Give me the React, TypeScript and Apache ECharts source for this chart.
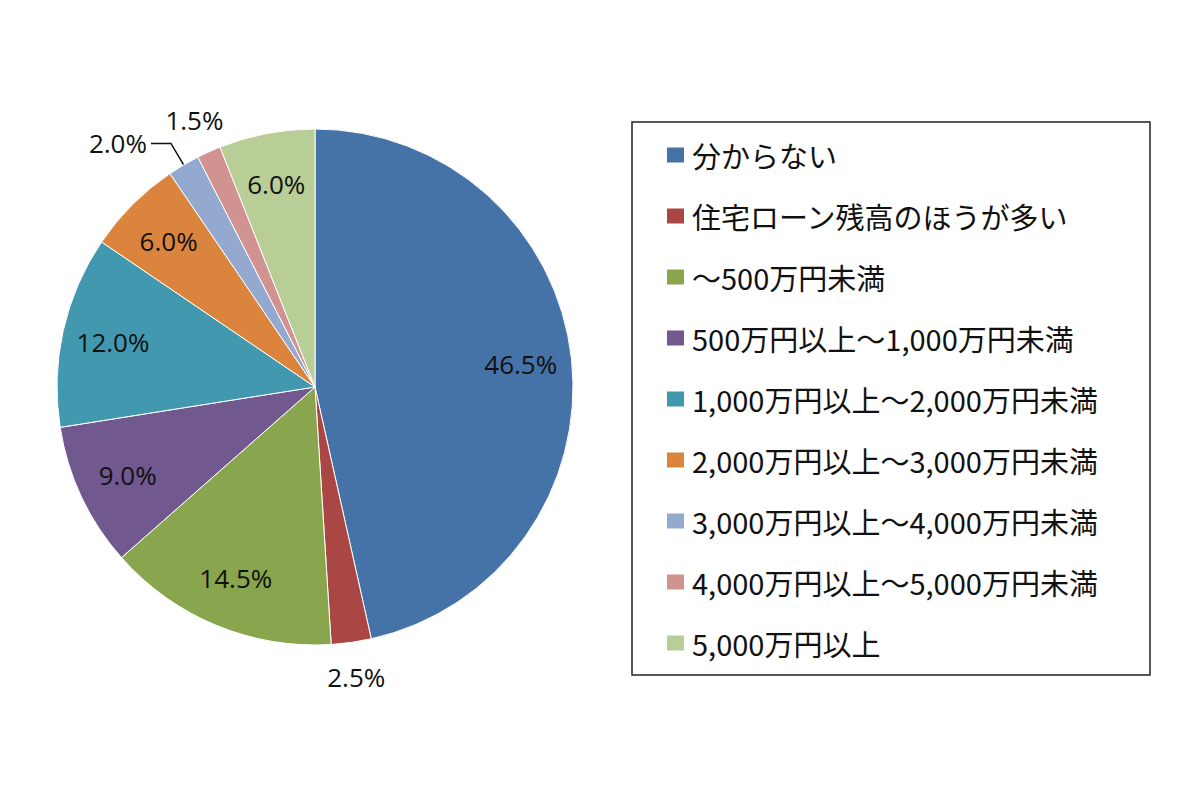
import React, { useEffect, useRef } from "react";
import * as echarts from "echarts";

const categories = [
  "分からない",
  "住宅ローン残高のほうが多い",
  "～500万円未満",
  "500万円以上～1,000万円未満",
  "1,000万円以上～2,000万円未満",
  "2,000万円以上～3,000万円未満",
  "3,000万円以上～4,000万円未満",
  "4,000万円以上～5,000万円未満",
  "5,000万円以上",
];
const values = [46.5, 2.5, 14.5, 9.0, 12.0, 6.0, 2.0, 1.5, 6.0];
const colors = [
  "#4572A7",
  "#AA4643",
  "#89A54E",
  "#71588F",
  "#4198AF",
  "#DB843D",
  "#93A9CF",
  "#D19392",
  "#B9CD96",
];
// where each slice's percentage label sits
const labelMode = ["inner", "outer", "inner", "inner", "inner", "inner", "leader", "outer", "inner"];

const CX = 315;
const CY = 387;
const R = 258;
const labelFont = { fontSize: 26, fontFamily: "Open Sans", color: "#111" };
const fmt = (p: any) => `${Number(p.value).toFixed(1)}%`;

export default function App() {
  const ref = useRef<HTMLDivElement>(null);
  useEffect(() => {
    if (!ref.current) return;
    const chart = echarts.init(ref.current, null, { renderer: "svg" });
    const mainData = categories.map((name, i) => ({
      name,
      value: values[i],
      itemStyle: { color: colors[i] },
      label: { show: labelMode[i] === "leader" },
      labelLine: { show: labelMode[i] === "leader" },
    }));
    const ringData = (mode: string) =>
      categories.map((name, i) => ({
        name,
        value: values[i],
        label: { show: labelMode[i] === mode },
      }));
    const ringBase = {
      type: "pie",
      center: [CX, CY],
      startAngle: 90,
      silent: true,
      itemStyle: { color: "rgba(0,0,0,0)", borderWidth: 0 },
      emphasis: { disabled: true },
      labelLine: { show: false },
      z: 5,
    };
    chart.setOption({
      animation: false,
      backgroundColor: "#fff",
      legend: {
        orient: "vertical",
        left: 667,
        top: 140,
        padding: 0,
        data: categories,
        icon: "rect",
        itemWidth: 17,
        itemHeight: 15,
        itemGap: 31,
        itemStyle: { borderWidth: 0 },
        selectedMode: false,
        textStyle: {
          fontSize: 29,
          lineHeight: 30,
          fontFamily: "Noto Sans CJK JP",
          color: "#111",
          padding: [0, 0, 0, 3],
        },
      },
      graphic: [
        {
          type: "rect",
          shape: { x: 632, y: 122, width: 518, height: 553 },
          style: { fill: "none", stroke: "#222", lineWidth: 1.5 },
        },
      ],
      series: [
        {
          type: "pie",
          center: [CX, CY],
          radius: [0, R],
          startAngle: 90,
          clockwise: true,
          avoidLabelOverlap: false,
          itemStyle: { borderColor: "#fff", borderWidth: 1 },
          emphasis: { disabled: true },
          label: {
            position: "outside",
            formatter: fmt,
            ...labelFont,
            distanceToLabelLine: 4,
          },
          labelLine: {
            length: 25,
            length2: 20,
            lineStyle: { color: "#111", width: 1.5 },
          },
          data: mainData,
        },
        {
          ...ringBase,
          radius: [150, R],
          label: { position: "inside", formatter: fmt, ...labelFont },
          data: ringData("inner"),
        },
        {
          ...ringBase,
          radius: [R, 322],
          label: { position: "inside", formatter: fmt, ...labelFont },
          data: ringData("outer"),
        },
      ],
    });
    return () => chart.dispose();
  }, []);
  return (
    <div
      ref={ref}
      style={{ position: "fixed", left: 0, top: 0, width: 1200, height: 800 }}
    />
  );
}
